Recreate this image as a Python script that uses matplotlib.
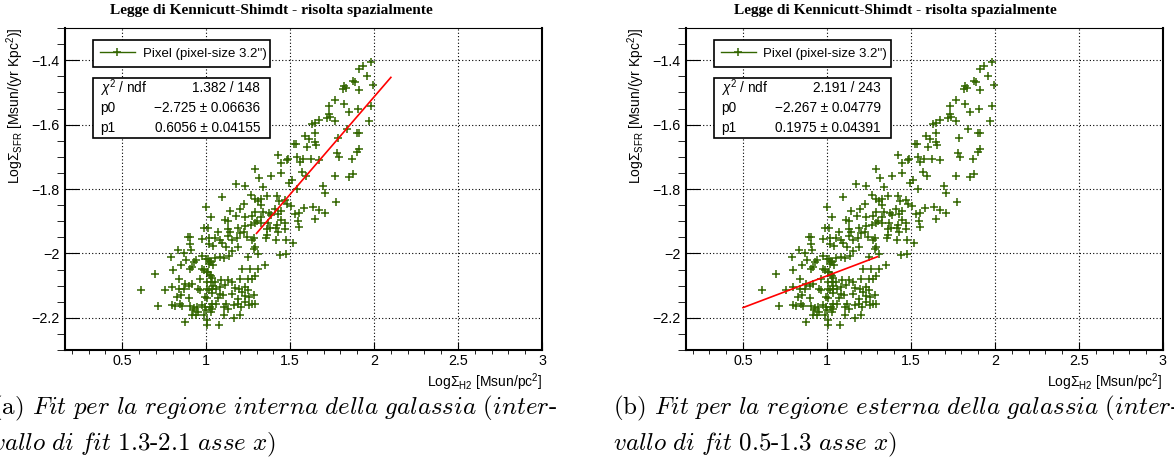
import numpy as np
import matplotlib.pyplot as plt
from matplotlib.patches import Rectangle
from matplotlib.lines import Line2D
from matplotlib.ticker import MultipleLocator, FuncFormatter

plt.rcParams['font.family'] = 'Liberation Sans'
plt.rcParams['mathtext.fontset'] = 'custom'
plt.rcParams['mathtext.rm'] = 'Liberation Sans'
plt.rcParams['mathtext.it'] = 'Liberation Sans:italic'
plt.rcParams['mathtext.bf'] = 'Liberation Sans:bold'

# pixel data: Log Sigma_H2 (x) and Log Sigma_SFR (y), same set in both panels
log_h2 = [
    0.990, 0.890, 0.905, 0.975, 0.905, 1.016, 1.040, 0.832, 0.870, 0.911,
    0.790, 0.879, 0.939, 0.929, 0.975, 1.000, 1.024, 1.016, 1.040, 0.850,
    0.915, 0.905, 0.800, 0.973, 0.990, 1.004, 0.697, 1.024, 1.036, 0.838,
    0.965, 1.008, 1.032, 0.877, 0.901, 0.917, 0.796, 0.870, 0.838, 0.754,
    0.613, 0.953, 0.965, 1.004, 1.016, 1.036, 0.826, 0.850, 0.901, 0.996,
    1.008, 0.798, 0.814, 0.846, 0.854, 0.711, 0.905, 0.929, 0.921, 0.945,
    0.953, 0.941, 0.973, 0.992, 1.000, 1.024, 1.036, 1.028, 0.988, 0.877,
    1.008, 1.008, 0.917,
    1.010, 1.018, 1.070, 1.054, 1.081, 1.097, 1.129, 1.145, 1.133, 1.153,
    1.188, 1.184, 1.192, 1.228, 1.232, 1.244, 1.272, 1.288, 1.292, 1.284,
    1.307, 1.363, 1.355, 1.363, 1.379, 1.419, 1.430, 1.470, 1.478, 1.415,
    1.442, 1.478, 1.117, 1.153, 1.137, 1.109, 1.085, 1.054, 1.030, 1.010,
    1.252, 1.351, 1.216, 1.264, 1.307, 1.010, 1.030, 1.054, 1.089, 1.133,
    1.157, 1.204, 1.252, 1.292, 1.272, 1.038, 1.061, 1.085, 1.113, 1.169,
    1.196, 1.232, 1.248, 1.034, 1.081, 1.101, 1.069, 1.153, 1.212, 1.232,
    1.256, 1.284, 1.192, 1.034, 1.061, 1.117, 1.105, 1.133, 1.165, 1.192,
    1.208, 1.232, 1.256, 1.272, 1.292, 1.204, 1.109, 1.165, 1.077,
    1.175, 1.230, 1.092, 1.000, 1.028, 1.143, 1.199, 1.223, 1.179, 1.230,
    1.111, 1.131, 1.203,
    1.317, 1.444, 1.571, 1.595, 1.511, 1.491, 1.539, 1.694, 1.706, 1.341,
    1.269, 1.289, 1.309, 1.329, 1.364, 1.420, 1.436, 1.472, 1.480, 1.273,
    1.289, 1.325, 1.337, 1.372, 1.384, 1.408, 1.428, 1.448, 1.507, 1.527,
    1.555, 1.583, 1.638, 1.670, 1.706, 1.650, 1.325, 1.305, 1.325, 1.289,
    1.265, 1.368, 1.420, 1.444, 1.472, 1.547, 1.555, 1.774, 1.520,
    1.984, 1.937, 1.909, 1.960, 1.877, 1.889, 1.996, 1.821, 1.814, 1.833,
    1.913, 1.766, 1.821, 1.980, 1.734, 1.905, 1.853, 1.730, 1.718, 1.738,
    1.675, 1.766, 1.631, 1.651, 1.972, 1.841, 1.897, 1.913, 1.647, 1.591,
    1.611, 1.651, 1.655, 1.786, 1.524, 1.536, 1.599, 1.913, 1.897, 1.782,
    1.790, 1.869, 1.425, 1.488, 1.480, 1.540, 1.556, 1.575, 1.627, 1.671,
    1.448, 1.290, 1.389, 1.766, 1.853, 1.873,
]
log_sfr = [
    -1.920, -1.950, -1.950, -1.955, -1.970, -1.970, -1.976, -1.990, -2.000, -1.990,
    -2.010, -2.020, -2.020, -2.028, -2.007, -2.018, -2.024, -2.034, -2.036, -2.036,
    -2.041, -2.049, -2.053, -2.047, -2.051, -2.059, -2.065, -2.067, -2.076, -2.078,
    -2.080, -2.088, -2.090, -2.096, -2.100, -2.096, -2.105, -2.109, -2.111, -2.113,
    -2.113, -2.109, -2.115, -2.111, -2.115, -2.109, -2.134, -2.130, -2.138, -2.134,
    -2.140, -2.160, -2.163, -2.156, -2.163, -2.163, -2.163, -2.169, -2.177, -2.167,
    -2.183, -2.190, -2.160, -2.165, -2.175, -2.167, -2.173, -2.183, -2.192, -2.214,
    -2.206, -2.223, -2.190,
    -1.922, -1.953, -1.935, -1.953, -1.958, -1.968, -1.924, -1.933, -1.947, -1.958,
    -1.922, -1.953, -1.980, -1.933, -1.914, -1.949, -1.958, -1.951, -1.980, -1.986,
    -2.003, -1.943, -1.951, -1.924, -1.920, -1.922, -1.933, -1.924, -1.958, -1.958,
    -2.005, -2.003, -1.980, -1.991, -2.007, -2.013, -2.011, -2.013, -2.026, -2.016,
    -2.011, -2.036, -2.047, -2.049, -2.047, -2.057, -2.069, -2.088, -2.084, -2.084,
    -2.088, -2.078, -2.078, -2.069, -2.080, -2.102, -2.109, -2.105, -2.098, -2.107,
    -2.109, -2.105, -2.115, -2.123, -2.125, -2.129, -2.140, -2.125, -2.119, -2.131,
    -2.134, -2.129, -2.142, -2.158, -2.156, -2.156, -2.167, -2.173, -2.160, -2.156,
    -2.167, -2.152, -2.160, -2.156, -2.156, -2.190, -2.192, -2.200, -2.223,
    -1.785, -1.791, -1.824, -1.855, -1.888, -1.867, -1.863, -1.845, -1.884, -1.888,
    -1.896, -1.900, -1.936,
    -1.766, -1.751, -1.747, -1.760, -1.772, -1.782, -1.799, -1.791, -1.811, -1.793,
    -1.820, -1.830, -1.836, -1.830, -1.822, -1.822, -1.836, -1.834, -1.845, -1.884,
    -1.871, -1.849, -1.871, -1.873, -1.882, -1.863, -1.878, -1.869, -1.853, -1.878,
    -1.873, -1.859, -1.855, -1.865, -1.873, -1.892, -1.886, -1.898, -1.905, -1.907,
    -1.911, -1.907, -1.911, -1.896, -1.907, -1.898, -1.917, -1.840, -1.968,
    -1.406, -1.419, -1.427, -1.448, -1.464, -1.468, -1.477, -1.481, -1.489, -1.485,
    -1.493, -1.522, -1.535, -1.541, -1.543, -1.553, -1.562, -1.568, -1.578, -1.576,
    -1.586, -1.590, -1.599, -1.595, -1.588, -1.615, -1.626, -1.626, -1.626, -1.636,
    -1.646, -1.653, -1.663, -1.640, -1.661, -1.659, -1.669, -1.677, -1.684, -1.688,
    -1.700, -1.706, -1.694, -1.706, -1.711, -1.700, -1.715, -1.706, -1.706, -1.709,
    -1.719, -1.737, -1.760, -1.758, -1.762, -1.754,
]

# fit results printed in the stat boxes
fit_ranges = [(1.3, 2.1), (0.5, 1.3)]
fit_p0 = [-2.725, -2.267]
fit_p1 = [0.6056, 0.1975]
chi2_text = ['1.382 / 148', '2.191 / 243']
p0_text = ['\u22122.725 \u00b1 0.06636', '\u22122.267 \u00b1 0.04779']
p1_text = ['0.6056 \u00b1 0.04155', '0.1975 \u00b1 0.04391']
tags = ['(a)', '(b)']
regions = ['interna', 'esterna']
fit_interval = ['1.3-2.1', '0.5-1.3']

title = 'Legge di Kennicutt-Shimdt - risolta spazialmente'
green = '#336600'

fig = plt.figure(figsize=(11.74, 4.68), dpi=100)
axes_left = [0.0554, 0.5843]
title_x = [0.2308, 0.7624]
caption_x = [-0.0068, 0.5221]

minus_fmt = FuncFormatter(lambda v, p: f'{v:g}'.replace('-', '\u2212'))

for i in range(2):
    ax = fig.add_axes([axes_left[i], 0.2521, 0.4063, 0.688])
    ax.plot(log_h2, log_sfr, linestyle='none', marker='+', markersize=6,
            markeredgewidth=1.1, color=green, zorder=3)
    xf = np.array(fit_ranges[i])
    ax.plot(xf, fit_p0[i] + fit_p1[i] * xf, color='red', lw=1.2, zorder=4)

    ax.set_xlim(0.16, 3.0)
    ax.set_ylim(-2.3, -1.3)
    ax.xaxis.set_major_locator(MultipleLocator(0.5))
    ax.xaxis.set_minor_locator(MultipleLocator(0.1))
    ax.yaxis.set_major_locator(MultipleLocator(0.2))
    ax.yaxis.set_minor_locator(MultipleLocator(0.05))
    ax.xaxis.set_major_formatter(minus_fmt)
    ax.yaxis.set_major_formatter(minus_fmt)
    ax.tick_params(direction='in', labelsize=10.3, width=0.8, colors='black')
    ax.tick_params(axis='x', which='major', length=5.8, pad=3)
    ax.tick_params(axis='x', which='minor', length=3.2)
    ax.tick_params(axis='y', which='major', length=10, pad=4)
    ax.tick_params(axis='y', which='minor', length=5.8)
    ax.grid(True, which='major', linestyle=(0, (1, 2)), color='black', linewidth=0.8)
    ax.set_axisbelow(True)
    for side in ['left', 'bottom', 'right']:
        ax.spines[side].set_linewidth(1.5)
    ax.spines['top'].set_linewidth(0.8)

    ax.set_xlabel(r'Log$\Sigma_{\mathrm{H2}}$ [Msun/pc$^{2}$]', fontsize=10, loc='right')
    ax.xaxis.set_label_coords(1.0, -0.065)
    ax.set_ylabel(r'Log$\Sigma_{\mathrm{SFR}}$ [Msun/(yr Kpc$^{2}$)]', fontsize=10, loc='top')
    ax.yaxis.set_label_coords(-0.082, 1.0)

    # legend box
    handle = Line2D([], [], color=green, marker='+', markersize=6, markeredgewidth=1.1, lw=1)
    leg = ax.legend([handle], ['Pixel (pixel-size 3.2\'\')'], loc='upper left',
                    bbox_to_anchor=(0.0587, 0.9627, 0.3711, 0.0), mode='expand',
                    fontsize=9.5, handlelength=2.6, handletextpad=0.6, borderpad=0.55,
                    borderaxespad=0, fancybox=False, framealpha=1, edgecolor='black')
    leg.get_frame().set_linewidth(1.2)

    # stat box
    ax.add_patch(Rectangle((0.0587, 0.6584), 0.3711, 0.1863, transform=ax.transAxes,
                           facecolor='white', edgecolor='black', lw=1.2, zorder=5))
    rows = [(r'$\chi^{2}$ / ndf', chi2_text[i]), ('p0', p0_text[i]), ('p1', p1_text[i])]
    for k, (name, val) in enumerate(rows):
        yy = 0.8137 - k * 0.0621
        ax.text(0.0734, yy, name, transform=ax.transAxes, fontsize=9.8, va='center',
                ha='left', zorder=6)
        ax.text(0.4088, yy, val, transform=ax.transAxes, fontsize=9.8, va='center',
                ha='right', zorder=6)

    fig.text(title_x[i], 0.9786, title, ha='center', va='center', fontsize=11.1,
             fontweight='bold', family='Liberation Serif')

    line1 = tags[i] + r' $\mathit{Fit\ per\ la\ regione\ ' + regions[i] + r'\ della\ galassia\ (inter}$-'
    line2 = r'$\mathit{vallo\ di\ fit\ }$' + fit_interval[i] + r'$\mathit{\ asse\ x)}$'
    fig.text(caption_x[i], 0.128, line1, ha='left', va='center', fontsize=18,
             family='cmr10', math_fontfamily='cm')
    fig.text(caption_x[i], 0.049, line2, ha='left', va='center', fontsize=18,
             family='cmr10', math_fontfamily='cm')

plt.savefig('out.png', dpi=100)
